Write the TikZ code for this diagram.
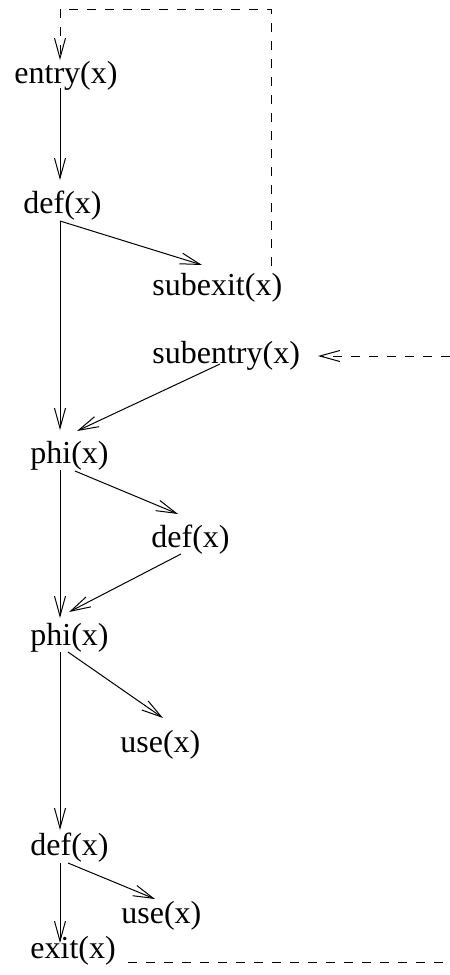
\documentclass[tikz,border=0pt]{standalone}
\usepackage{fontspec}
\setmainfont{Liberation Serif}
\usetikzlibrary{arrows.meta,calc}
\begin{document}
\begin{tikzpicture}[x=0.5pt,y=-0.5pt,
  lbl/.style={anchor=base west,inner sep=0pt,font=\fontsize{16}{19}\selectfont},
  arr/.style={line width=0.5pt,-{Straight Barb[length=10pt,width=5.5pt]}},
  dsh/.style={line width=0.5pt,dash pattern=on 4.5pt off 4.5pt}]
\useasboundingbox (0,0) rectangle (450,975);
\node[lbl] (entry) at (14,83) {entry(x)};
\node[lbl] (def1) at (23,213) {def(x)};
\node[lbl] (subexit) at (152,295) {subexit(x)};
\node[lbl] (subentry) at (152,363) {subentry(x)};
\node[lbl] (phi1) at (30,463) {phi(x)};
\node[lbl] (def2) at (151,547) {def(x)};
\node[lbl] (phi2) at (30,645) {phi(x)};
\node[lbl] (use1) at (120,752) {use(x)};
\node[lbl] (def3) at (30,855) {def(x)};
\node[lbl] (use2) at (121,923) {use(x)};
\node[lbl] (exit) at (30,958) {exit(x)};
\coordinate (rin) at (450,356);
\coordinate (rout) at (450,962);
% dashed loop
\draw[dsh,arr] ($(subexit.base west)+(119,-29)$) |- (60,9) -- ($(entry.base west)+(46,-23)$);
\draw[dsh,arr] (rin) -- ($(subentry.base west)+(166,-7)$);
\draw[dsh] ($(exit.base west)+(98,4)$) -- (rout);
% solid
\draw[arr] ($(entry.base west)+(46,5)$) -- ($(def1.base west)+(37,-33)$);
\draw[arr] ($(def1.base west)+(37,8)$) -- ($(subexit.base west)+(50,-30)$);
\draw[arr] ($(def1.base west)+(37,8)$) -- ($(phi1.base west)+(30,-33)$);
\draw[arr] ($(subentry.base west)+(68,1)$) -- ($(phi1.base west)+(47,-32)$);
\draw[arr] ($(phi1.base west)+(45,8)$) -- ($(def2.base west)+(27,-33)$);
\draw[arr] ($(def2.base west)+(30,7)$) -- ($(phi2.base west)+(39,-33)$);
\draw[arr] ($(phi1.base west)+(30,7)$) -- ($(phi2.base west)+(30,-27)$);
\draw[arr] ($(phi2.base west)+(38,7)$) -- ($(use1.base west)+(43,-34)$);
\draw[arr] ($(phi2.base west)+(30,7)$) -- ($(def3.base west)+(30,-25)$);
\draw[arr] ($(def3.base west)+(38,8)$) -- ($(use2.base west)+(34,-24)$);
\draw[arr] ($(def3.base west)+(30,8)$) -- ($(exit.base west)+(30,-15)$);
\end{tikzpicture}
\end{document}
